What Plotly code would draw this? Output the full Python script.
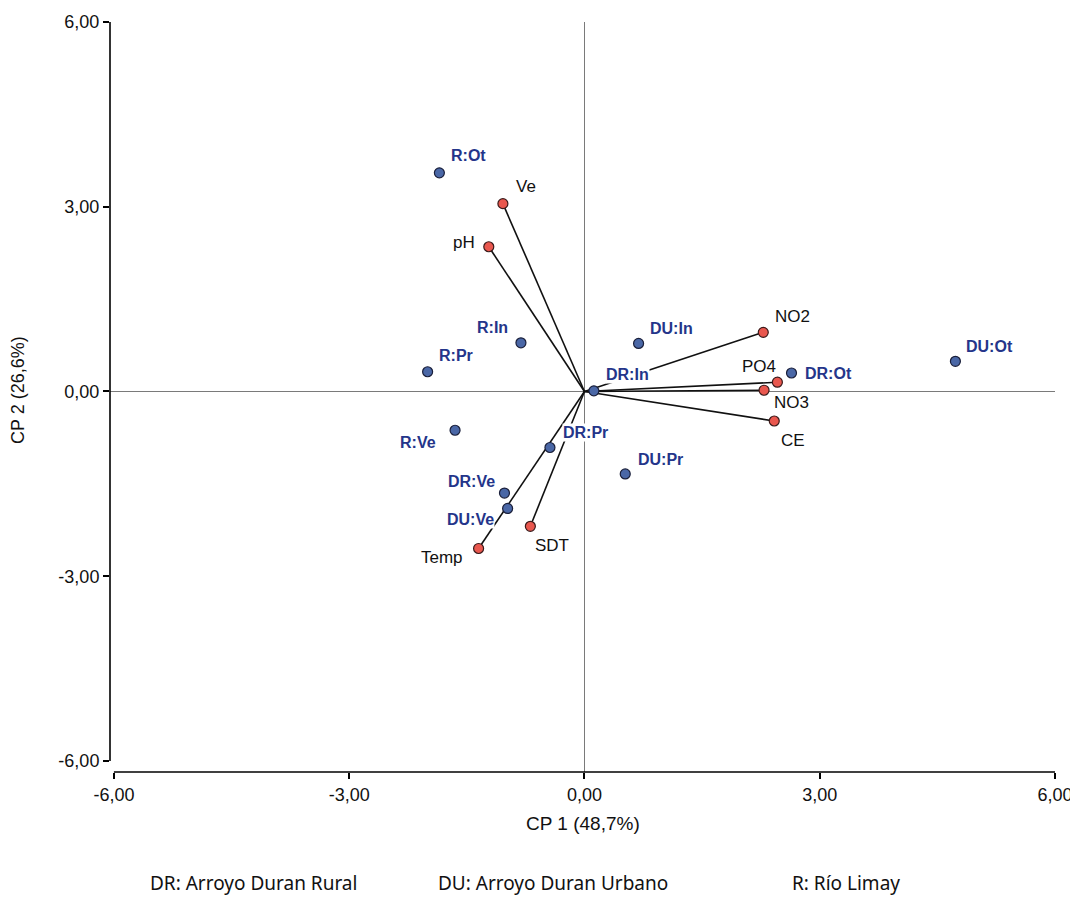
import plotly.graph_objects as go

# Observations (sites:seasons)
obs_labels = ["R:Ot", "R:In", "R:Pr", "R:Ve", "DR:Ve", "DU:Ve", "DR:Pr", "DU:Pr",
              "DR:In", "DU:In", "DR:Ot", "DU:Ot"]
obs_x = [-1.85, -0.81, -2.00, -1.65, -1.02, -0.98, -0.44, 0.52, 0.12, 0.69, 2.64, 4.73]
obs_y = [3.55, 0.79, 0.32, -0.63, -1.65, -1.90, -0.91, -1.34, 0.01, 0.78, 0.30, 0.49]

# Variables (loadings)
var_labels = ["Ve", "pH", "NO2", "PO4", "NO3", "CE", "Temp", "SDT"]
var_x = [-1.04, -1.22, 2.28, 2.46, 2.29, 2.42, -1.35, -0.69]
var_y = [3.05, 2.35, 0.96, 0.15, 0.02, -0.48, -2.55, -2.19]

tick_vals = [-6, -3, 0, 3, 6]
tick_text = ["-6,00", "-3,00", "0,00", "3,00", "6,00"]
x_title = "CP 1 (48,7%)"
y_title = "CP 2 (26,6%)"
footer = ["DR: Arroyo Duran Rural", "DU: Arroyo Duran Urbano", "R: Río Limay"]

# label offsets in pixels (dx, dy up) - styling only
obs_off = {"R:Ot": (29, 17), "R:In": (-28, 15), "R:Pr": (28, 16), "R:Ve": (-37, -12),
           "DR:Ve": (-33, 12), "DU:Ve": (-37, -11), "DR:Pr": (36, 15), "DU:Pr": (35, 14),
           "DR:In": (34, 16), "DU:In": (33, 15), "DR:Ot": (37, -1), "DU:Ot": (34, 15)}
var_off = {"Ve": (23, 17), "pH": (-25, 4), "NO2": (29, 16), "PO4": (-18, 16),
           "NO3": (27, -12), "CE": (19, -19), "Temp": (-37, -9), "SDT": (22, -19)}

FONT = "Arial"
NAVY = "#24358a"

fig = go.Figure()

# vectors from origin
lx, ly = [], []
for vx, vy in zip(var_x, var_y):
    lx += [0, vx, None]
    ly += [0, vy, None]
fig.add_trace(go.Scatter(x=lx, y=ly, mode="lines",
                         line=dict(color="#111111", width=1.6),
                         hoverinfo="skip", showlegend=False))

fig.add_trace(go.Scatter(x=var_x, y=var_y, mode="markers", text=var_labels,
                         marker=dict(size=10, color="#e9574e",
                                     line=dict(color="#3a1a1a", width=1.2)),
                         showlegend=False))
fig.add_trace(go.Scatter(x=obs_x, y=obs_y, mode="markers", text=obs_labels,
                         marker=dict(size=10, color="#4a67a6",
                                     line=dict(color="#1a1f3a", width=1.2)),
                         showlegend=False))

annotations = []
for lab, x, y in zip(obs_labels, obs_x, obs_y):
    dx, dy = obs_off[lab]
    annotations.append(dict(x=x, y=y, xref="x", yref="y", text="<b>" + lab + "</b>",
                            showarrow=False, xshift=dx, yshift=dy,
                            font=dict(family=FONT, size=16, color=NAVY),
                            bgcolor="white", borderpad=0))
for lab, x, y in zip(var_labels, var_x, var_y):
    dx, dy = var_off[lab]
    annotations.append(dict(x=x, y=y, xref="x", yref="y", text=lab,
                            showarrow=False, xshift=dx, yshift=dy,
                            font=dict(family=FONT, size=17, color="#111111"),
                            bgcolor="white", borderpad=0))

# axis titles
annotations.append(dict(x=0.5, y=-0.068, xref="paper", yref="paper", text=x_title,
                        showarrow=False, xanchor="center", yanchor="middle",
                        font=dict(family=FONT, size=19, color="#111111")))
annotations.append(dict(x=-0.098, y=0.51, xref="paper", yref="paper", text=y_title,
                        showarrow=False, textangle=-90, xanchor="center", yanchor="middle",
                        font=dict(family=FONT, size=18, color="#111111")))

# footer text
foot_x = [0.0402, 0.345, 0.7196]
for t, fx in zip(footer, foot_x):
    annotations.append(dict(x=fx, y=-0.148, xref="paper", yref="paper", text=t,
                            showarrow=False, xanchor="left", yanchor="middle",
                            font=dict(family="Noto Sans, DejaVu Sans, sans-serif",
                                      size=19, color="#111111")))

shapes = [
    # detached y axis line
    dict(type="line", xref="paper", yref="y", x0=0, x1=0, y0=-6, y1=6,
         line=dict(color="black", width=1.6)),
    # detached x axis line
    dict(type="line", xref="x", yref="paper", x0=-6, x1=6, y0=0, y1=0,
         line=dict(color="black", width=1.6)),
]

fig.update_layout(
    width=1070, height=893,
    margin=dict(l=102, r=23, t=14, b=129),
    paper_bgcolor="white", plot_bgcolor="white",
    annotations=annotations, shapes=shapes,
    font=dict(family=FONT, size=18, color="#111111"),
    showlegend=False,
)
fig.update_xaxes(range=[-6.05, 6.0], tickvals=tick_vals, ticktext=tick_text,
                 showgrid=False, showline=False, zeroline=True,
                 zerolinecolor="#7a7a7a", zerolinewidth=1,
                 ticks="outside", ticklen=6, tickwidth=1.5, tickcolor="black",
                 ticklabeloverflow="allow", automargin=False,
                 tickfont=dict(family=FONT, size=18, color="#111111"))
fig.update_yaxes(range=[-6.18, 6.0], tickvals=tick_vals, ticktext=tick_text,
                 showgrid=False, showline=False, zeroline=True,
                 zerolinecolor="#7a7a7a", zerolinewidth=1,
                 ticks="outside", ticklen=6, tickwidth=1.5, tickcolor="black",
                 ticklabeloverflow="allow", automargin=False,
                 tickfont=dict(family=FONT, size=18, color="#111111"))

fig.write_html("out.html")
